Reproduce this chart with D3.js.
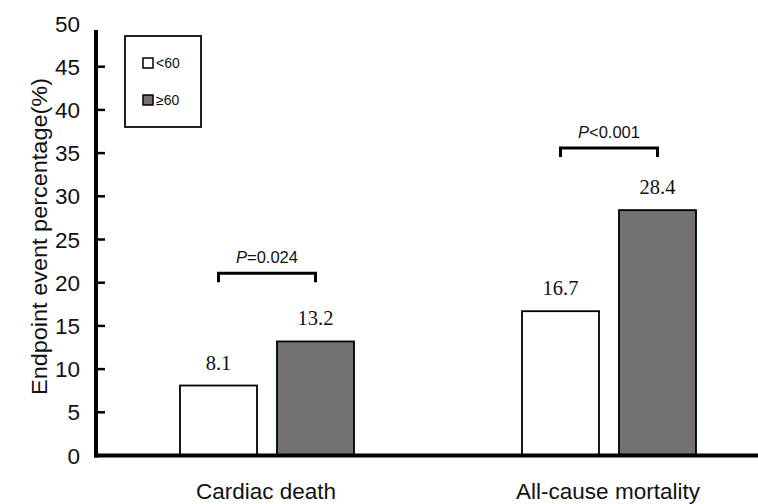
<!DOCTYPE html>
<html><head><meta charset="utf-8">
<script src="https://cdn.jsdelivr.net/npm/d3@7"></script>
<style>body{margin:0;background:#fff}svg{display:block}</style>
</head><body>
<svg id="c" width="758" height="504"></svg>
<script>
const categories = ["Cardiac death", "All-cause mortality"];
const groups = ["<60", "≥60"];
const valuesUnder60 = [8.1, 16.7];
const valuesOver60 = [13.2, 28.4];
const pLabels = ["=0.024", "<0.001"];
const pBracketLevel = [21.1, 35.6];
const yTicks = [0, 5, 10, 15, 20, 25, 30, 35, 40, 45, 50];
const colors = ["#ffffff", "#767171"];

const svg = d3.select("#c");
const x0 = 96, yBase = 455.5;
const y = d3.scaleLinear().domain([0, 50]).range([yBase, 23.5]);
const xBand = d3.scaleBand().domain(categories).range([x0, 780]).paddingInner(0).paddingOuter(0);
const xSub = d3.scaleBand().domain(groups).range([0, 174]).paddingInner(0.206);
const groupOffset = (xBand.bandwidth() - 174) / 2;
const sans = "Liberation Sans, Arial, sans-serif";

// tick labels
svg.append("g").selectAll("text").data(yTicks).join("text")
  .attr("x", 80).attr("y", d => y(d)).attr("dy", "0.36em")
  .attr("text-anchor", "end").attr("font-family", sans)
  .attr("font-size", 22.5).attr("fill", "#111").text(d => d);
// ticks inward
svg.append("g").selectAll("line").data(yTicks.filter(d => d > 0 && d < 50)).join("line")
  .attr("x1", x0).attr("x2", x0 + 9).attr("y1", d => y(d)).attr("y2", d => y(d))
  .attr("stroke", "#000").attr("stroke-width", 2.5);

// y title
svg.append("text").attr("transform", `translate(47,${(78+395)/2}) rotate(-90)`)
  .attr("text-anchor", "middle").attr("font-family", sans)
  .attr("font-size", 22).attr("textLength", 317).attr("lengthAdjust", "spacingAndGlyphs")
  .attr("fill", "#111").text("Endpoint event percentage(%)");

// bars
const rows = categories.map((c, i) => ({c, i, vals: [valuesUnder60[i], valuesOver60[i]]}));
const g = svg.append("g");
rows.forEach(r => {
  const gx = xBand(r.c) + groupOffset;
  r.vals.forEach((v, k) => {
    const bx = gx + xSub(groups[k]);
    g.append("rect").attr("x", bx).attr("y", y(v)).attr("width", xSub.bandwidth())
      .attr("height", yBase - y(v)).attr("fill", colors[k]).attr("stroke", "#000").attr("stroke-width", 1.8);
    g.append("text").attr("x", bx + xSub.bandwidth() / 2).attr("y", y(v) - 16)
      .attr("text-anchor", "middle").attr("font-family", "Liberation Serif, Times New Roman, serif")
      .attr("font-size", 20.5).attr("fill", "#111").text(v.toFixed(1));
  });
  // bracket
  const xa = gx + xSub(groups[0]) + xSub.bandwidth() / 2;
  const xb = gx + xSub(groups[1]) + xSub.bandwidth() / 2;
  const yb = y(pBracketLevel[r.i]);
  g.append("path").attr("d", `M${xa},${yb + 9}V${yb}H${xb}V${yb + 9}`)
    .attr("fill", "none").attr("stroke", "#000").attr("stroke-width", 3);
  const t = g.append("text").attr("x", (xa + xb) / 2).attr("y", yb - 10)
    .attr("text-anchor", "middle").attr("font-family", sans)
    .attr("font-size", 16.5).attr("fill", "#111");
  t.append("tspan").attr("font-style", "italic").text("P");
  t.append("tspan").text(pLabels[r.i]);
  // category label
  svg.append("text").attr("x", xBand(r.c) + xBand.bandwidth() / 2 - 1).attr("y", 499)
    .attr("text-anchor", "middle").attr("font-family", sans)
    .attr("font-size", 22.5).attr("fill", "#111").text(r.c);
});

// axes lines
svg.append("line").attr("x1", x0).attr("x2", x0).attr("y1", 30).attr("y2", yBase + 2)
  .attr("stroke", "#000").attr("stroke-width", 4);
svg.append("line").attr("x1", x0 - 2).attr("x2", 758).attr("y1", yBase).attr("y2", yBase)
  .attr("stroke", "#000").attr("stroke-width", 4);

// legend
const lg = svg.append("g");
lg.append("rect").attr("x", 125).attr("y", 36).attr("width", 76).attr("height", 91)
  .attr("fill", "#fff").attr("stroke", "#222").attr("stroke-width", 2);
groups.forEach((gname, k) => {
  const cy = 63 + k * 37;
  lg.append("rect").attr("x", 143).attr("y", cy - 5).attr("width", 10).attr("height", 10)
    .attr("fill", colors[k]).attr("stroke", "#000").attr("stroke-width", 1.5);
  lg.append("text").attr("x", 156).attr("y", cy).attr("dy", "0.36em")
    .attr("font-family", sans).attr("font-size", 14)
    .attr("fill", "#111").text(gname);
});
</script>
</body></html>
